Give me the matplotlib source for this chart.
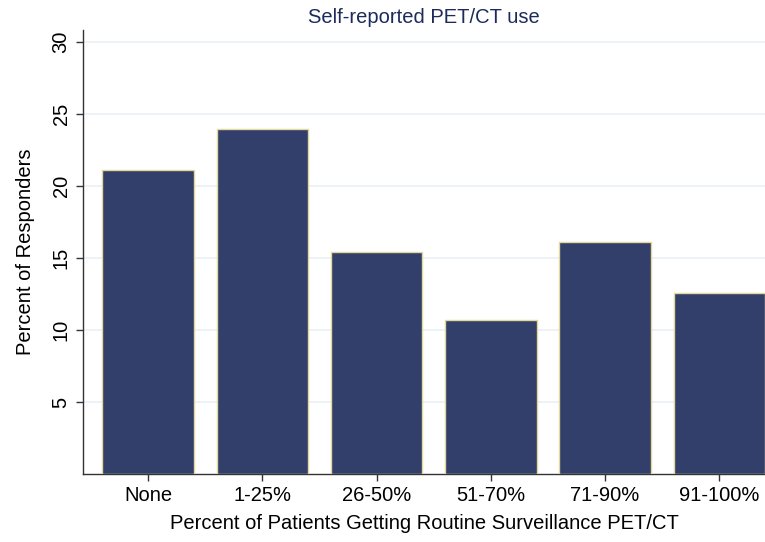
import matplotlib
matplotlib.use('Agg')
from matplotlib import pyplot as plt
import numpy as np

categories = ['None', '1-25%', '26-50%', '51-70%', '71-90%', '91-100%']
percent_responders = [21.1, 23.95, 15.45, 10.7, 16.1, 12.6]
y_ticks = [5, 10, 15, 20, 25, 30]

plt.rcParams['font.family'] = ['Liberation Sans', 'DejaVu Sans']

fig = plt.figure(figsize=(7.65, 5.42), dpi=100)
ax = fig.add_axes([0.1085, 0.1255, 0.8915, 0.819])

x = np.arange(len(categories))
ax.bar(x, percent_responders, width=0.8, color='#323f6a',
       edgecolor='#e3d79a', linewidth=1.0, zorder=3)

ax.set_xlim(-0.57, 5.40)
ax.set_ylim(0, 30.85)
ax.set_xticks(x)
ax.set_xticklabels(categories, fontsize=14.5)
ax.set_yticks(y_ticks)
ax.set_yticklabels([str(t) for t in y_ticks], fontsize=14.5, rotation=90, va='center')
ax.tick_params(axis='both', direction='out', length=5, width=1, color='#333333', pad=4)

# light horizontal grid
ax.yaxis.grid(True, color='#e9f0f4', linewidth=1.2, zorder=0)
ax.set_axisbelow(True)

for s in ['top', 'right']:
    ax.spines[s].set_visible(False)
for s in ['left', 'bottom']:
    ax.spines[s].set_color('#333333')
    ax.spines[s].set_linewidth(1.0)

ax.set_xlabel('Percent of Patients Getting Routine Surveillance PET/CT', fontsize=14.5, labelpad=6)
ax.set_ylabel('Percent of Responders', fontsize=14.5, labelpad=12)
ax.set_title('Self-reported PET/CT use', fontsize=14.5, color='#1c2a5c', pad=5)

fig.savefig('out.png', dpi=100)
